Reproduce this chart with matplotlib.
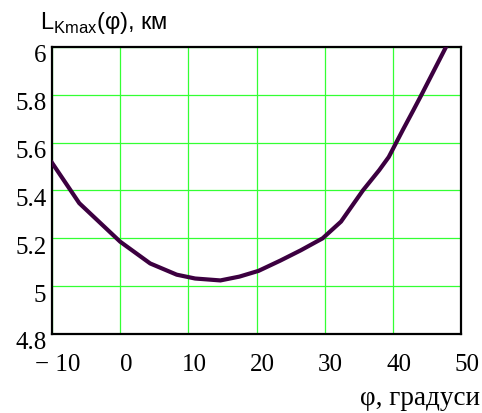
import numpy as np
import matplotlib as mpl
mpl.use('Agg')
import matplotlib.pyplot as plt
import matplotlib.transforms as mtransforms

# curve
phi = [-10, -6, 0, 4.4, 8.3, 11, 14.7, 17.5, 20.3, 23.5, 26.5, 29.7, 32.4, 35.6, 38, 39.4, 41.5, 43, 44.2, 46, 47.8]
L_kmax = [5.516, 5.347, 5.186, 5.095, 5.048, 5.032, 5.024, 5.040, 5.064, 5.107, 5.150, 5.200, 5.270,
          5.400, 5.485, 5.540, 5.655, 5.735, 5.800, 5.900, 6.000]

x_ticks = [-10, 0, 10, 20, 30, 40, 50]
x_labels = ['\u2212 10', '0', '10', '20', '30', '40', '50']
y_ticks = [4.8, 5.0, 5.2, 5.4, 5.6, 5.8, 6.0]
y_labels = ['4.8', '5', '5.2', '5.4', '5.6', '5.8', '6']

serif = ['Liberation Serif', 'DejaVu Serif']
sans = ['Liberation Sans', 'DejaVu Sans']
fs = 18

fig = plt.figure(figsize=(4.82, 4.14), dpi=100)
ax = fig.add_axes([52/482, 1 - 335/414, 409/482, 287/414])

ax.plot(phi, L_kmax, color='#3c0040', lw=3.0, solid_joinstyle='round', zorder=3)

ax.set_xlim(-10, 50)
ax.set_ylim(4.8, 6.0)
ax.set_xticks(x_ticks)
ax.set_yticks(y_ticks)
ax.set_xticklabels(x_labels, family=serif, fontsize=fs)
ax.set_yticklabels(y_labels, family=serif, fontsize=fs)
ax.tick_params(length=0)
ax.tick_params(axis='y', pad=4)
ax.tick_params(axis='x', pad=14)
ax.grid(True, color='#33ff33', lw=0.9)

# Mathcad-like label offsets
off_x = mtransforms.ScaledTranslation(6/100, 0, fig.dpi_scale_trans)
for lab in ax.get_xticklabels():
    lab.set_transform(lab.get_transform() + off_x)
off_y = mtransforms.ScaledTranslation(0, -6/100, fig.dpi_scale_trans)
for lab in ax.get_yticklabels():
    lab.set_transform(lab.get_transform() + off_y)

for s in ax.spines.values():
    s.set_linewidth(1.6)
    s.set_color('black')

fig.text(40/482, 1 - 29/414, 'L$_{\\mathregular{Kmax}}$(\u03c6), \u043a\u043c',
         family=sans, fontsize=17, ha='left', va='baseline')
fig.text(480/482, 1 - 405/414, '\u03c6, \u0433\u0440\u0430\u0434\u0443\u0441\u0438',
         family=serif, fontsize=19.5, ha='right', va='baseline')

fig.savefig('out.png', dpi=100)
